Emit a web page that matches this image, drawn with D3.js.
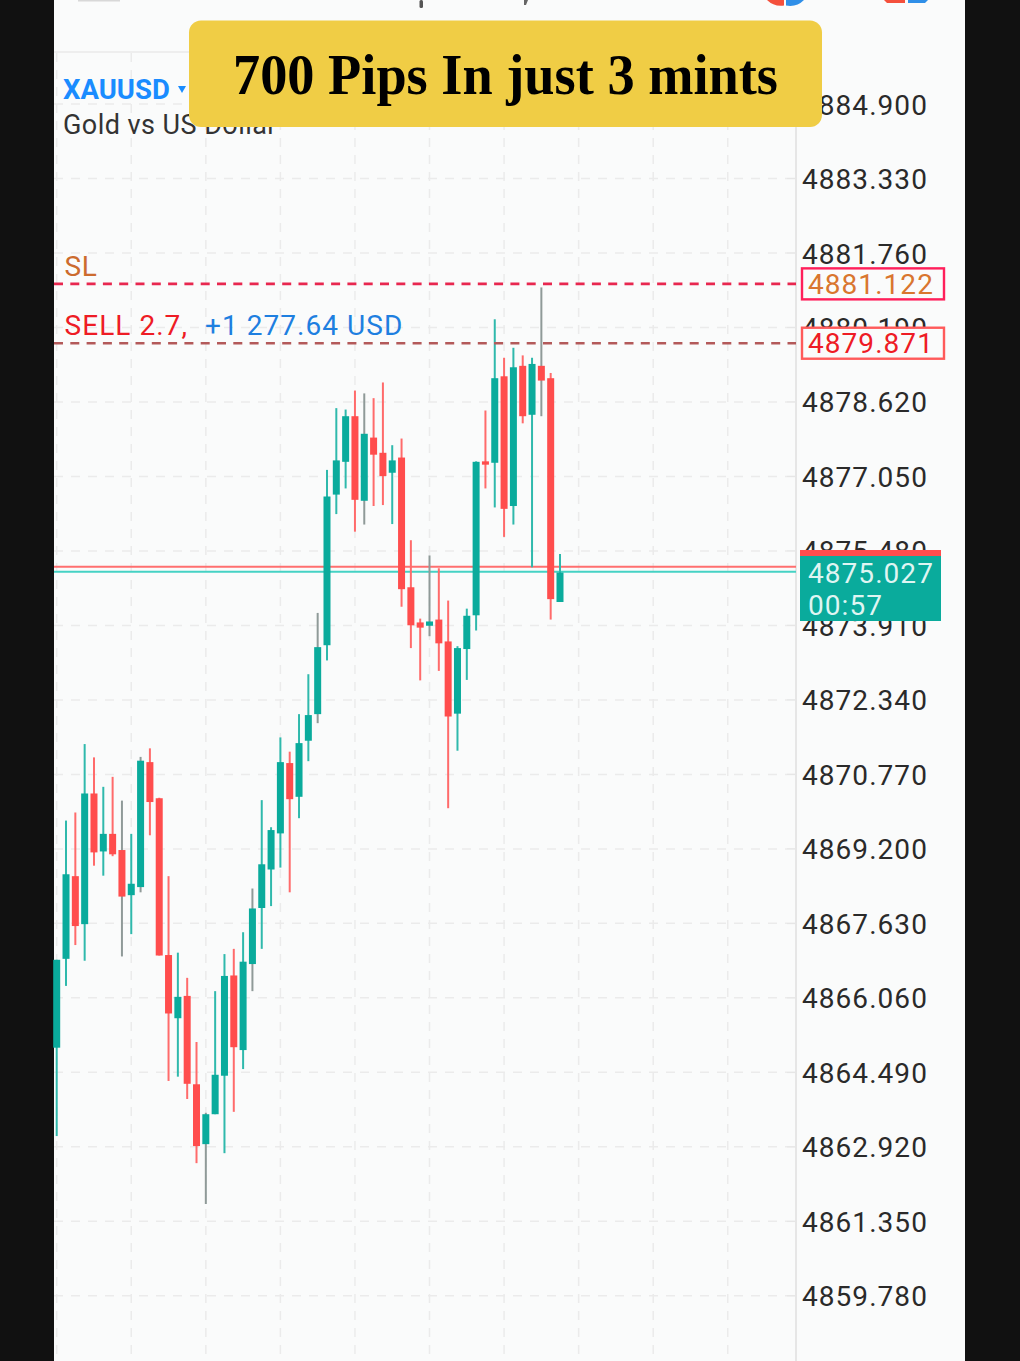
<!DOCTYPE html>
<html><head><meta charset="utf-8">
<style>html,body{margin:0;padding:0;background:#111;overflow:hidden}svg{display:block}</style>
<script src="https://cdn.jsdelivr.net/npm/d3@7"></script></head><body>
<script>
const opens=[4865.01,4866.88,4868.62,4867.61,4870.36,4869.14,4869.51,4869.17,4868.22,4868.39,4871.02,4870.26,4866.96,4865.63,4866.10,4864.24,4862.98,4863.61,4864.42,4866.53,4864.96,4866.77,4867.95,4868.76,4869.52,4871.00,4870.29,4871.47,4872.03,4873.48,4876.65,4877.34,4878.30,4876.52,4877.85,4877.53,4877.11,4877.43,4874.70,4873.96,4873.89,4874.02,4873.56,4872.04,4873.40,4874.11,4877.35,4877.32,4879.14,4876.41,4879.36,4878.33,4879.36,4879.10,4874.39];
const highs=[4866.86,4869.79,4869.96,4871.40,4871.12,4870.50,4870.71,4870.21,4869.51,4871.13,4871.31,4870.27,4868.62,4867.01,4866.48,4865.13,4863.64,4866.20,4866.98,4867.09,4867.44,4868.36,4870.22,4869.65,4871.54,4871.24,4872.03,4872.87,4874.16,4877.17,4878.47,4878.44,4878.84,4878.78,4878.68,4879.01,4877.69,4877.83,4875.69,4874.04,4875.37,4875.10,4874.42,4873.46,4874.25,4877.35,4878.42,4880.34,4879.53,4879.74,4879.58,4879.53,4881.01,4879.21,4875.40];
const lows=[4863.15,4866.31,4867.17,4866.84,4868.84,4868.63,4869.04,4866.93,4867.40,4868.28,4869.48,4866.95,4864.31,4864.40,4863.93,4862.58,4861.72,4863.61,4862.79,4863.66,4864.56,4866.20,4867.09,4867.99,4868.80,4868.28,4869.84,4871.04,4871.84,4873.16,4876.24,4876.78,4875.87,4876.02,4876.41,4876.43,4876.03,4874.29,4873.42,4872.74,4873.67,4872.94,4870.05,4871.26,4872.75,4873.79,4876.78,4876.38,4875.76,4876.02,4878.15,4875.12,4878.30,4874.02,4874.39];
const closes=[4866.86,4868.66,4867.57,4870.36,4869.12,4869.51,4869.08,4868.19,4868.46,4871.05,4870.18,4866.95,4865.73,4866.08,4864.25,4862.94,4863.61,4864.44,4866.52,4865.02,4866.82,4867.94,4868.87,4869.59,4871.02,4870.24,4871.42,4872.01,4873.44,4876.61,4877.37,4878.30,4876.54,4877.93,4877.49,4877.04,4877.37,4874.66,4873.90,4873.85,4873.98,4873.52,4871.98,4873.42,4874.10,4877.34,4877.28,4879.10,4876.35,4879.33,4878.30,4879.40,4879.05,4874.45,4875.01];
const greyWicks=[7,9,16,21,28,33,40,52];
const priceTicks=[4884.900,4883.330,4881.760,4880.190,4878.620,4877.050,4875.480,4873.910,4872.340,4870.770,4869.200,4867.630,4866.060,4864.490,4862.920,4861.350,4859.780,4858.210];
const timeGridIdx=[0,8,16,24,32,40,48,56,64,72];
const slPrice=4881.122, sellPrice=4879.871, bidPrice=4875.027, askPrice=4875.13;
const titleText="700 Pips In just 3 mints";

const W=1020,H=1361;
const y=d3.scaleLinear().domain([4870.77,4859.78]).range([774,1296.2]);
const tickY=d3.scaleLinear().domain([4870.77,4859.78]).range([774.4,1295.8]);
const x=d3.scaleLinear().domain([0,54]).range([56.7,560]);
const svg=d3.select("body").append("svg").attr("width",W).attr("height",H);
const font="Roboto, sans-serif";
const RED="#ff4d4d",TEAL="#0aab9c";

svg.append("rect").attr("width",W).attr("height",H).attr("fill","#111111");
svg.append("rect").attr("x",54).attr("width",911).attr("height",H).attr("fill","#fafbfb");
// top header fragments, cut by the top edge in the reference
svg.append("rect").attr("x",78).attr("y",0).attr("width",42).attr("height",1.5).attr("fill","#d8d8d8");
svg.append("rect").attr("x",419.5).attr("y",0).attr("width",3.5).attr("height",8).attr("rx",1.5).attr("fill","#555");
svg.append("path").attr("d","M524,0h4l-2,5h-2z").attr("fill","#666");
svg.append("path").attr("d","M767,0h17v5.5a20,20 0 0 1 -17,-5.5z").attr("fill","#f4503c");
svg.append("path").attr("d","M786,0h18a20,20 0 0 1 -18,5.5z").attr("fill","#2f8fe8");
svg.append("path").attr("d","M884,0h21v3h-18z").attr("fill","#f4503c");
svg.append("path").attr("d","M908,0h20l-3,3h-17z").attr("fill","#2f8fe8");
svg.append("line").attr("x1",54).attr("x2",796).attr("y1",52).attr("y2",52).attr("stroke","#eeeeee").attr("stroke-width",2);

// grid
const gridG=svg.append("g");
gridG.selectAll(".h").data(priceTicks).join("line")
 .attr("x1",54).attr("x2",787).attr("y1",d=>tickY(d)).attr("y2",d=>tickY(d))
 .attr("stroke","#ebebeb").attr("stroke-width",1.5).attr("stroke-dasharray","9,8");
gridG.selectAll(".v").data(timeGridIdx).join("line")
 .attr("x1",d=>x(d)).attr("x2",d=>x(d)).attr("y1",53).attr("y2",H)
 .attr("stroke","#ebebeb").attr("stroke-width",1.5).attr("stroke-dasharray","9,8");

// axis
svg.append("line").attr("x1",796).attr("x2",796).attr("y1",53).attr("y2",H).attr("stroke","#e6e6e6").attr("stroke-width",2);
svg.append("g").selectAll("line").data(priceTicks).join("line")
 .attr("x1",787).attr("x2",796).attr("y1",d=>tickY(d)).attr("y2",d=>tickY(d)).attr("stroke","#e6e6e6").attr("stroke-width",1.5);
const labelStyle=s=>s.attr("font-family",font).attr("font-size",28).attr("letter-spacing",1.05);
svg.append("g").selectAll("text").data(priceTicks).join("text").call(labelStyle)
 .attr("x",802).attr("y",d=>tickY(d)+10.5).attr("fill","#2a2a2a").text(d=>d.toFixed(3));

// price lines
svg.append("line").attr("x1",54).attr("x2",796).attr("y1",y(askPrice)).attr("y2",y(askPrice)).attr("stroke","#ff6f6f").attr("stroke-width",2);
svg.append("line").attr("x1",54).attr("x2",796).attr("y1",y(bidPrice)).attr("y2",y(bidPrice)).attr("stroke","#45d2c4").attr("stroke-width",2);

// candles
const idx=d3.range(opens.length);
const cg=svg.append("g");
cg.selectAll(".wick").data(idx).join("line")
 .attr("x1",i=>x(i)).attr("x2",i=>x(i)).attr("y1",i=>y(highs[i])).attr("y2",i=>y(lows[i]))
 .attr("stroke",i=>greyWicks.includes(i)?"#8f9a98":(closes[i]>=opens[i]?"#2fb9ac":"#ff6b6b")).attr("stroke-width",2);
cg.selectAll(".body").data(idx).join("rect")
 .attr("x",i=>x(i)-3.5).attr("width",7)
 .attr("y",i=>y(Math.max(opens[i],closes[i])))
 .attr("height",i=>Math.max(2.5,Math.abs(y(opens[i])-y(closes[i]))))
 .attr("fill",i=>closes[i]>=opens[i]?TEAL:RED);

// trade lines
svg.append("line").attr("x1",54).attr("x2",796).attr("y1",tickY(slPrice)+0.6).attr("y2",tickY(slPrice)+0.6).attr("stroke","#e8274f").attr("stroke-width",2.6).attr("stroke-dasharray","9,7.3");
svg.append("line").attr("x1",54).attr("x2",796).attr("y1",tickY(sellPrice)+0.6).attr("y2",tickY(sellPrice)+0.6).attr("stroke","#b35a5a").attr("stroke-width",2.6).attr("stroke-dasharray","9,7.3");

// price boxes
function tag(price,border,color){
 const c=tickY(price)+0.6;
 svg.append("rect").attr("x",802).attr("y",c-15.5).attr("width",142).attr("height",31).attr("fill","#fafbfb").attr("stroke",border).attr("stroke-width",2.4);
 svg.append("text").call(labelStyle).attr("x",808).attr("y",c+10).attr("fill",color).text(price.toFixed(3));
}
tag(slPrice,"#ff1f5a","#d9762f");
tag(sellPrice,"#ff5a5a","#ee1c25");
svg.append("rect").attr("x",800).attr("y",556).attr("width",141).attr("height",65).attr("fill",TEAL);
svg.append("rect").attr("x",800).attr("y",550).attr("width",141).attr("height",6).attr("fill",RED);
svg.append("text").call(labelStyle).attr("x",808).attr("y",583).attr("fill","#dff5f2").text(bidPrice.toFixed(3));
svg.append("text").call(labelStyle).attr("x",808).attr("y",615).attr("fill","#dff5f2").text("00:57");

// labels
svg.append("text").attr("x",63).attr("y",99).attr("font-family",font).attr("font-weight",700).attr("font-size",27.5).attr("fill","#1a8cff").text("XAUUSD");
svg.append("path").attr("d","M178,86h8l-4,7z").attr("fill","#1a8cff");
svg.append("text").attr("x",63).attr("y",134).attr("font-family",font).attr("font-size",27).attr("letter-spacing",0.45).attr("fill","#333").text("Gold vs US Dollar");
svg.append("text").attr("x",64.5).attr("y",276).attr("font-family",font).attr("font-size",28).attr("letter-spacing",0.7).attr("fill","#cc6b2e").text("SL");
svg.append("text").attr("x",64.5).attr("y",335).attr("font-family",font).attr("font-size",28).attr("letter-spacing",1.05).attr("fill","#ee1c25").text("SELL 2.7,");
svg.append("text").attr("x",205).attr("y",335).attr("font-family",font).attr("font-size",28).attr("letter-spacing",1.05).attr("fill","#1e7fe0").text("+1 277.64 USD");

// title banner
svg.append("rect").attr("x",189).attr("y",20.5).attr("width",633).attr("height",106.5).attr("rx",12).attr("fill","#f0cd45");
svg.append("text").attr("x",233).attr("y",94).attr("font-family","'Liberation Serif', serif").attr("font-weight",700).attr("font-size",58).attr("textLength",545).attr("lengthAdjust","spacingAndGlyphs").attr("fill","#000").text(titleText);
</script></body></html>
